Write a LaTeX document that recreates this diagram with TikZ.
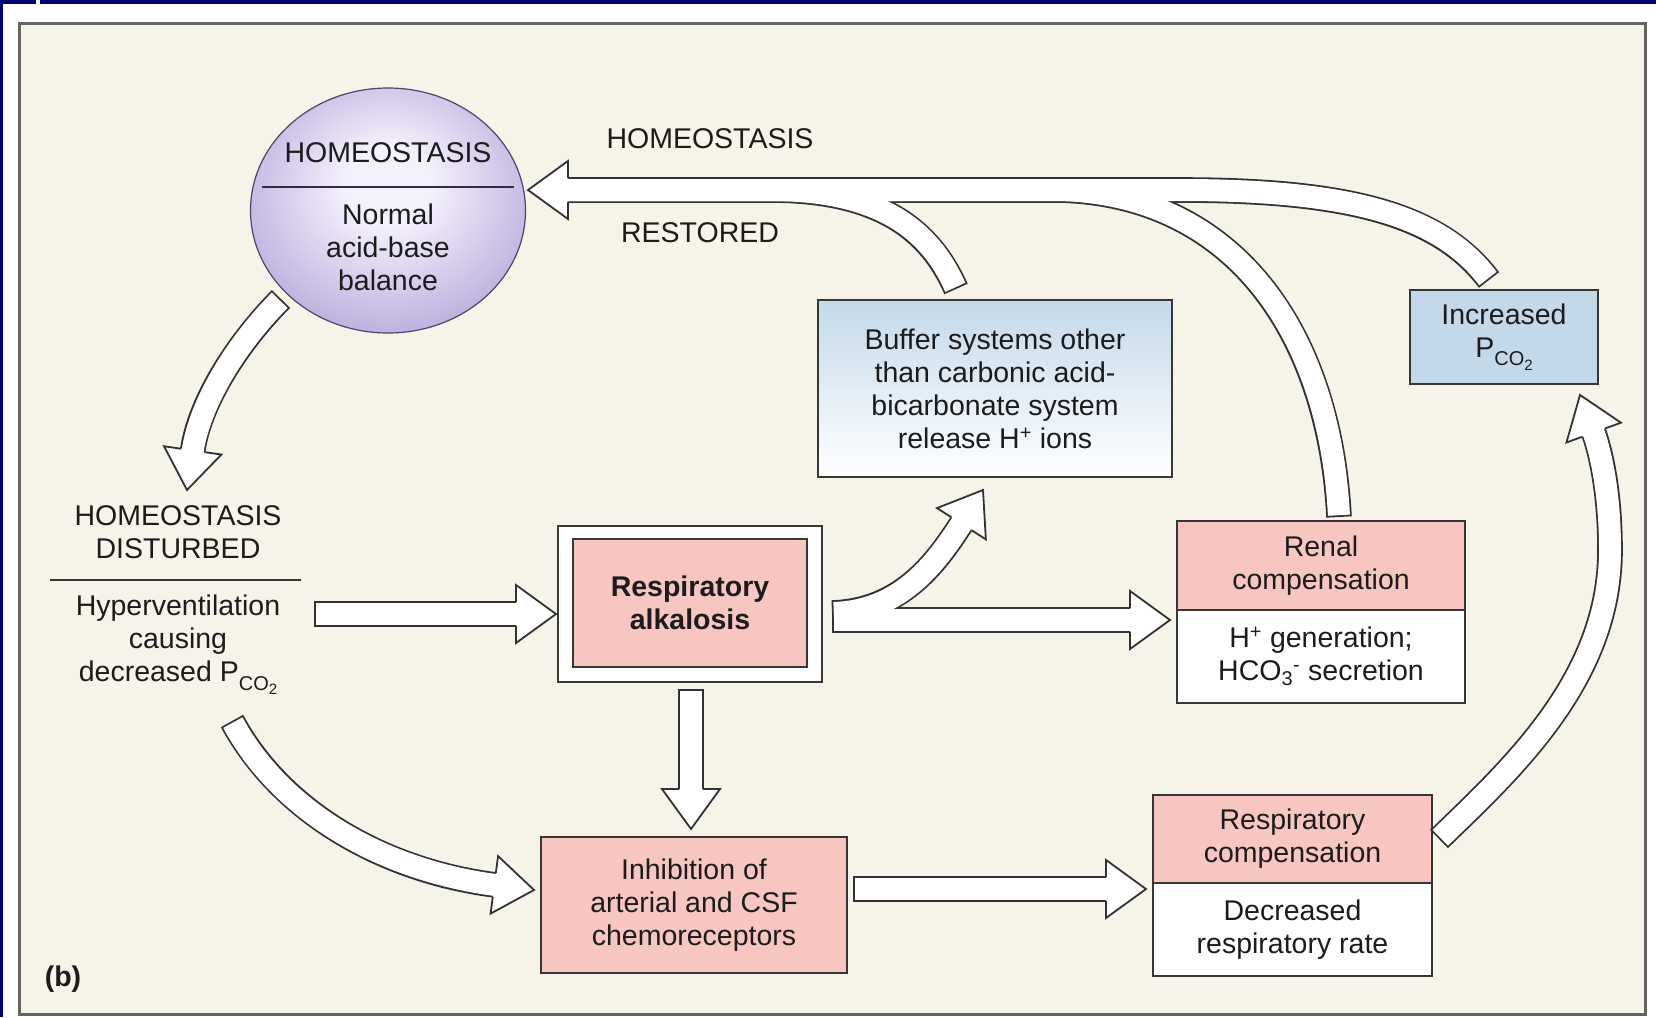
\documentclass[tikz,border=0pt]{standalone}
\usepackage{fontspec}
\setmainfont{Liberation Sans}
\usetikzlibrary{shapes.geometric,decorations.markings}
\definecolor{navy}{RGB}{0,0,112}
\definecolor{panel}{RGB}{246,243,232}
\definecolor{panelline}{RGB}{100,100,100}
\definecolor{pinkc}{RGB}{247,198,192}
\definecolor{bluec}{RGB}{195,217,234}
\definecolor{purpD}{RGB}{143,122,196}
\definecolor{purpL}{RGB}{244,240,252}
\definecolor{boxline}{RGB}{55,55,55}
\definecolor{arrline}{RGB}{50,50,50}
\definecolor{txt}{RGB}{28,28,28}
\pgfdeclareradialshading{homeshade}{\pgfpoint{0bp}{6bp}}{color(0bp)=(purpL); color(8bp)=(purpL); color(46bp)=(purpD); color(60bp)=(purpD)}
\newcommand{\pco}{P\raisebox{-0.3em}{\fontsize{20}{20}\selectfont CO\raisebox{-0.22em}{\fontsize{15}{15}\selectfont 2}}}
\begin{document}
\begin{tikzpicture}[x=1pt,y=-1pt,
  every node/.style={font=\fontsize{28.5}{33}\selectfont, text=txt},
  box/.style={draw=boxline, line width=1.8pt, inner sep=0pt, align=center},
  lbl/.style={inner sep=0pt, align=center},
  fatout/.style={line width=25.6pt, draw=arrline, shorten >=40pt},
  fatin/.style={line width=22pt, draw=white, shorten <=1.8pt, shorten >=38pt},
  fathead/.style={decoration={markings, mark=at position 1 with {%
      \fill[white] (0pt,0pt) -- (-40pt,29pt) -- (-40pt,-29pt) -- cycle;
      \draw[arrline, line width=1.8pt, line join=miter] (-40pt,11.9pt) -- (-40pt,29pt) -- (0pt,0pt) -- (-40pt,-29pt) -- (-40pt,-11.9pt);}}, decorate},
  sep/.style={line width=1.5pt, draw=boxline}
]
\useasboundingbox (0,0) rectangle (1656,1017);
\fill[white] (0,0) rectangle (1656,1017);
% frame bars
\fill[navy] (0,0) rectangle (1656,4);
\fill[navy] (0,0) rectangle (3,1017);
\fill[white] (36,0) rectangle (40,4);
% panel
\draw[panelline, fill=panel, line width=3pt] (19,23) rectangle (1645,1014);

% ---------- nodes ----------
\node[ellipse, minimum width=275pt, minimum height=245pt, inner sep=0pt, draw=purpD!55!black, line width=1.2pt, shading=homeshade] (home) at (388,210.5) {};
\node[lbl] (homeT) at (388,153) {HOMEOSTASIS};
\draw[line width=1.6pt, draw=purpD!35!black] (262,187) -- (514,187);
\node[lbl] (homeB) at (388,247) {Normal\\acid-base\\balance};

\node[lbl] (restT) at (710,139) {HOMEOSTASIS};
\node[lbl] (restB) at (700,233) {RESTORED};

\node[lbl] (distT) at (178,532.5) {HOMEOSTASIS\\DISTURBED};
\draw[sep] (50,580) -- (301,580);
\node[lbl] (distB) at (178,645) {Hyperventilation\\causing\\decreased \pco};

\node[box, top color=bluec, bottom color=white, minimum width=354pt, minimum height=177pt] (buffer) at (995,388.5) {Buffer systems other\\than carbonic acid-\\bicarbonate system\\release H\textsuperscript{+} ions};
\node[box, fill=bluec, minimum width=188pt, minimum height=94pt] (incr) at (1504,337) {Increased\\\pco};

\node[box, fill=pinkc, minimum width=288pt, minimum height=89pt] (renalT) at (1321,565.5) {Renal\\compensation};
\node[box, fill=white, minimum width=288pt, minimum height=93pt] (renalB) at (1321,656.5) {H\textsuperscript{+} generation;\\HCO\textsubscript{3}\textsuperscript{-} secretion};

\node[box, fill=white, minimum width=264pt, minimum height=156pt] (alkO) at (690,604) {};
\node[box, fill=pinkc, minimum width=234pt, minimum height=128pt, font=\fontsize{28.5}{33}\selectfont\bfseries] (alk) at (690,603) {Respiratory\\alkalosis};

\node[box, fill=pinkc, minimum width=306pt, minimum height=136pt] (inh) at (694,905) {Inhibition of\\arterial and CSF\\chemoreceptors};

\node[box, fill=pinkc, minimum width=279pt, minimum height=88pt] (respT) at (1292.5,839) {Respiratory\\compensation};
\node[box, fill=white, minimum width=279pt, minimum height=93pt] (respB) at (1292.5,929.5) {Decreased\\respiratory rate};

\node[lbl, font=\fontsize{28.5}{33}\selectfont\bfseries] (blab) at (63,979) {(b)};

% ---------- connector end points ----------
\coordinate (ttip) at (528,190);
\coordinate (b1) at (956,289);
\coordinate (b2) at (1339,517);
\coordinate (b3) at (1489,280);
\coordinate (a1s) at (281,299);
\coordinate (a1e) at (187,490);
\coordinate (a2s) at (314,614);
\coordinate (a2e) at (556,614);
\coordinate (a3s) at (691,689);
\coordinate (a3e) at (691,829);
\coordinate (a4s) at (232,721);
\coordinate (a4e) at (534,890);
\coordinate (a5s) at (853,889);
\coordinate (a5e) at (1146,889);
\coordinate (a6s) at (1439,839);
\coordinate (a6e) at (1580,395);
\coordinate (f1s) at (832,620);
\coordinate (f1e) at (1170,620);
\coordinate (f2s) at (832,613);
\coordinate (f2e) at (983,490);

% ---------- restored tree ----------
\draw[fatout] (b1) .. controls (930,230) and (880,190) .. (770,190) -- (ttip);
\draw[fatout] (b2) .. controls (1330,340) and (1240,195) .. (1060,190) -- (ttip);
\draw[fatout] (b3) .. controls (1440,215) and (1350,190) .. (1180,190) -- (ttip);
\draw[fatin] (b1) .. controls (930,230) and (880,190) .. (770,190) -- (ttip);
\draw[fatin] (b2) .. controls (1330,340) and (1240,195) .. (1060,190) -- (ttip);
\draw[fatin] (b3) .. controls (1440,215) and (1350,190) .. (1180,190) -- (ttip);
\path[fathead] (770,190) -- (ttip);

% ---------- fork from respiratory alkalosis ----------
\draw[fatout] (f1s) -- (f1e);
\draw[fatout] (f2s) .. controls (900,611) and (935,565) .. (f2e);
\draw[fatin] (f1s) -- (f1e);
\draw[fatin] (f2s) .. controls (900,611) and (935,565) .. (f2e);
\path[fathead] (f1s) -- (f1e);
\path[fathead] (935,565) -- (f2e);

% ---------- single arrows ----------
\foreach \p in {fatout,fatin}{
  \draw[\p] (a1s) .. controls (240,340) and (200,400) .. (a1e);
  \draw[\p] (a2s) -- (a2e);
  \draw[\p] (a3s) -- (a3e);
  \draw[\p] (a4s) .. controls (280,810) and (380,870) .. (a4e);
  \draw[\p] (a5s) -- (a5e);
  \draw[\p] (a6s) .. controls (1510,770) and (1610,680) .. (1610,550) .. controls (1610,490) and (1600,450) .. (a6e);
}
\path[fathead] (200,400) -- (a1e);
\path[fathead] (a2s) -- (a2e);
\path[fathead] (a3s) -- (a3e);
\path[fathead] (380,870) -- (a4e);
\path[fathead] (a5s) -- (a5e);
\path[fathead] (1600,450) -- (a6e);
\end{tikzpicture}
\end{document}
